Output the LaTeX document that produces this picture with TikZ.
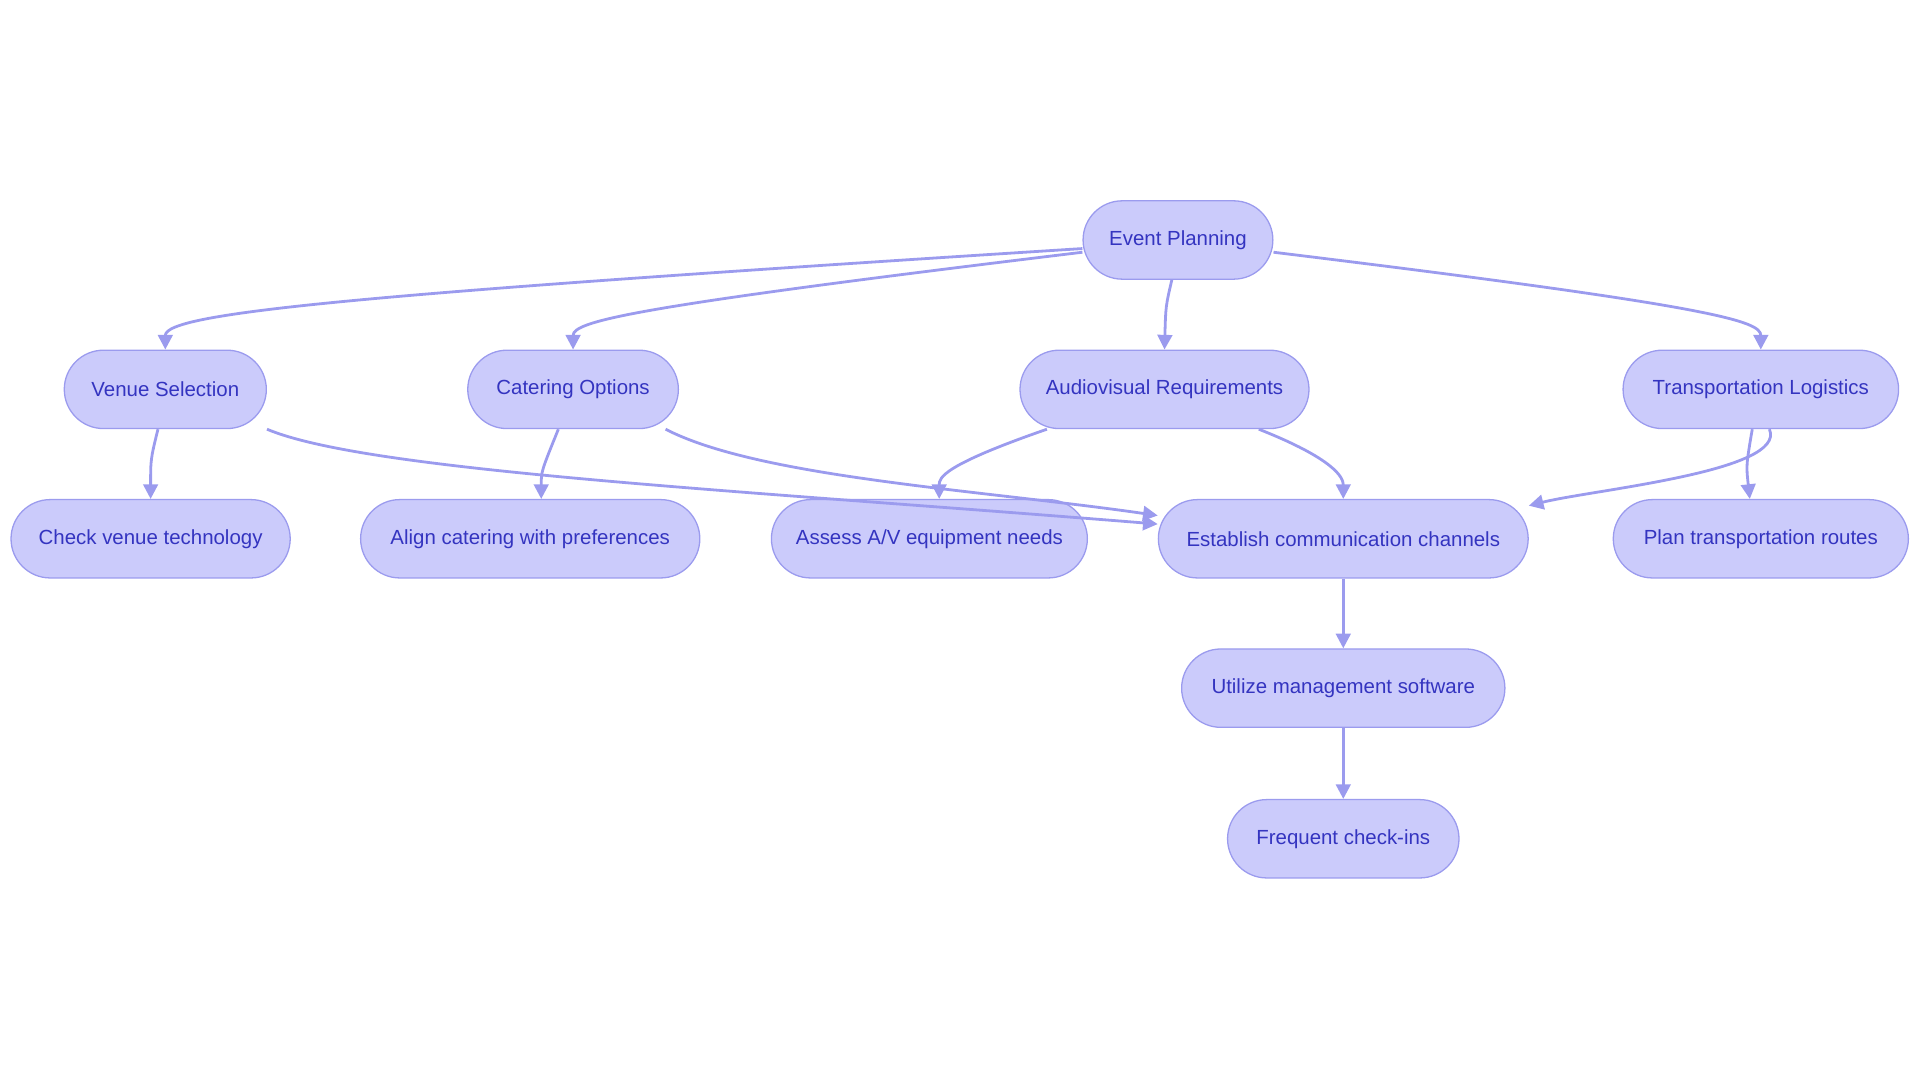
\documentclass[tikz,border=0pt]{standalone}
\usepackage{fontspec}
\setmainfont{Liberation Sans}
\usetikzlibrary{calc,arrows.meta}
\definecolor{nfill}{HTML}{CBCBFB}
\definecolor{nline}{HTML}{9B9BEE}
\definecolor{ntext}{HTML}{3434C0}
\tikzset{
 box/.style={draw=nline,fill=nfill,rounded corners=0.64cm,minimum height=1.28cm,text=ntext,font=\fontsize{9.5}{11}\selectfont,inner sep=0pt,line width=0.6pt},
 conn/.style={draw=nline,line width=1.3pt,-{Triangle[length=0.24cm,width=0.24cm]}}
}
\begin{document}
\begin{tikzpicture}[x=0.02cm,y=-0.02cm]
\useasboundingbox (0,0) rectangle (1568,884);
\node[box,minimum width=155*0.02cm] (ep) at (962,196) {Event Planning};
\node[box,minimum width=165*0.02cm] (ven) at (135,318) {Venue Selection};
\node[box,minimum width=172*0.02cm] (cat) at (468,318) {Catering Options};
\node[box,minimum width=236*0.02cm] (av) at (951,318) {Audiovisual Requirements};
\node[box,minimum width=225*0.02cm] (tr) at (1438,318) {Transportation Logistics};
\node[box,minimum width=228*0.02cm] (chk) at (123,440) {Check venue technology};
\node[box,minimum width=277*0.02cm] (ali) at (433,440) {Align catering with preferences};
\node[box,minimum width=258*0.02cm] (ass) at (759,440) {Assess A/V equipment needs};
\node[box,minimum width=302*0.02cm] (est) at (1097,440) {Establish communication channels};
\node[box,minimum width=241*0.02cm] (pl) at (1438,440) {Plan transportation routes};
\node[box,minimum width=264*0.02cm] (ut) at (1097,562) {Utilize management software};
\node[box,minimum width=189*0.02cm] (fr) at (1097,685) {Frequent check-ins};

\draw[conn] ($(ep.west)+(0,7)$) .. controls (300,240) and (135,255) .. (ven.north);
\draw[conn] ($(ep.west)+(0,10)$) .. controls (520,250) and (468,262) .. (cat.north);
\draw[conn] ($(ep.south)+(-5,0)$) .. controls (952,250) .. (av.north);
\draw[conn] ($(ep.east)+(0,10)$) .. controls (1400,250) and (1438,262) .. (tr.north);
\draw[conn] ($(ven.south)+(-6,0)$) .. controls (123,375) .. (chk.north);
\draw[conn] ($(cat.south)+(-12,0)$) .. controls (442,385) .. ($(ali.north)+(9,0)$);
\draw[conn] (ven.south east) .. controls (300,385) and (600,400) .. ($(est.west)+(0,-12)$);
\draw[conn] ($(cat.south east)+(-11,0)$) .. controls (620,390) and (800,400) .. ($(est.west)+(0,-19)$);
\draw[conn] ($(av.south)+(-96,0)$) .. controls (770,380) and (767,390) .. ($(ass.north)+(8,0)$);
\draw[conn] ($(av.south)+(77,0)$) .. controls (1090,375) and (1097,390) .. (est.north);
\draw[conn] ($(tr.south)+(7,0)$) .. controls (1460,385) and (1300,400) .. ($(est.east)+(0,-27)$);
\draw[conn] ($(tr.south)+(-7,0)$) .. controls (1426,380) .. ($(pl.north)+(-9,0)$);
\draw[conn] (est) -- (ut);
\draw[conn] (ut) -- (fr);
\end{tikzpicture}
\end{document}
